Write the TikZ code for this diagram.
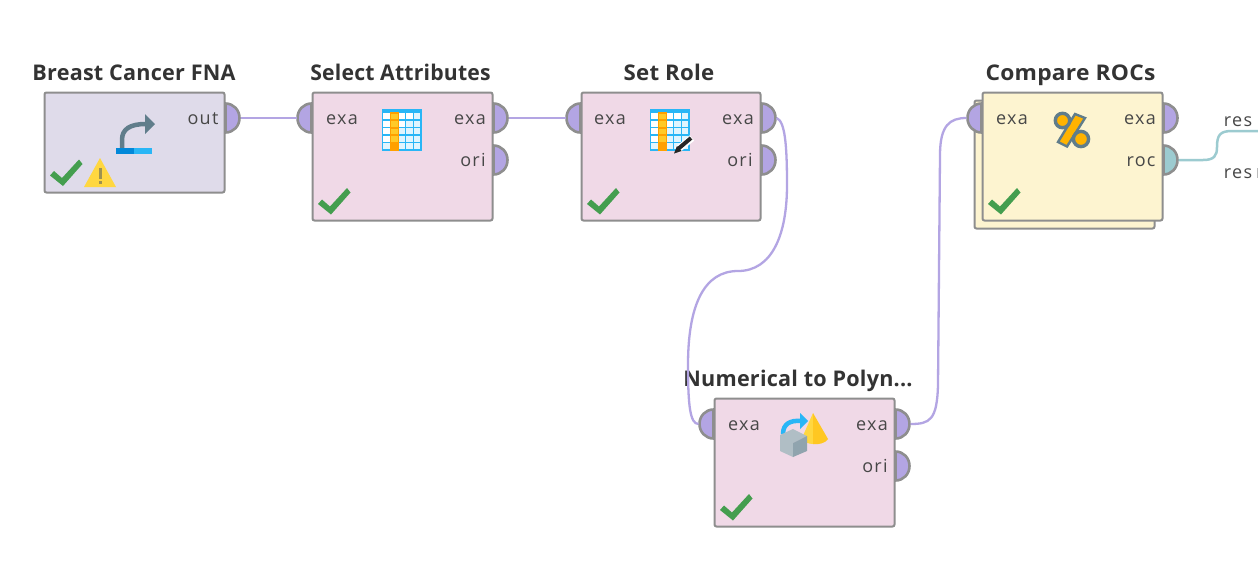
\documentclass[tikz,border=0pt]{standalone}
\usepackage{fontspec}
\setmainfont{Open Sans}
\newfontfamily\portfont[LetterSpace=7]{Open Sans}
\newfontfamily\titlefont[LetterSpace=1]{Open Sans}
\definecolor{boxedge}{HTML}{8E8E8E}
\definecolor{pinkfill}{HTML}{F0D9E7}
\definecolor{lilacfill}{HTML}{DFDBEA}
\definecolor{creamfill}{HTML}{FDF4D0}
\definecolor{purpleport}{HTML}{B3A5E3}
\definecolor{tealport}{HTML}{9CCBD0}
\definecolor{tickgreen}{HTML}{4CAF58}
\definecolor{skyblue}{HTML}{29B6F6}
\definecolor{deepblue}{HTML}{0288D9}
\definecolor{paleblue}{HTML}{E1F5FE}
\definecolor{orangecol}{HTML}{FFB300}
\definecolor{orangelow}{HTML}{FFA000}
\definecolor{orangehigh}{HTML}{FFCA28}
\definecolor{slategray}{HTML}{607D8B}
\definecolor{warnyellow}{HTML}{FFD740}
\definecolor{warnmark}{HTML}{9E9250}
\definecolor{cubelight}{HTML}{B0BEC5}
\definecolor{cubedark}{HTML}{90A4AE}
\tikzset{
  opbox/.style={draw=boxedge,line width=2pt,rounded corners=2pt,minimum width=180pt,minimum height=128pt,inner sep=0pt,anchor=north west},
  optitle/.style={font=\titlefont\fontsize{21.6}{26}\selectfont\bfseries,text=black!80,inner sep=0pt,anchor=base},
  portlabel/.style={font=\portfont\fontsize{18}{22}\selectfont,text=black!72,inner sep=0pt,anchor=base},
  wire/.style={line width=2.3pt,draw=purpleport},
  tealwire/.style={line width=2.5pt,draw=tealport},
  pics/portright/.style={code={
    \draw[draw=boxedge,line width=2.6pt,fill=#1] (0,-14.5) .. controls (8,-14.5) and (14,-8) .. (14,0) .. controls (14,8) and (8,14.5) .. (0,14.5) -- cycle;
    \coordinate (-tip) at (15,0);}},
  pics/portleft/.style={code={
    \draw[draw=boxedge,line width=2.6pt,fill=#1] (0,-14.5) .. controls (-8,-14.5) and (-14,-8) .. (-14,0) .. controls (-14,8) and (-8,14.5) .. (0,14.5) -- cycle;
    \coordinate (-tip) at (-15,0);}},
  pics/tick/.style={code={
    \fill[tickgreen!90!black] (0,-1) -- (4,-5.5) -- (12,1.5) -- (29,-17) -- (32.5,-12.5) -- (13,9.5) -- cycle;}},
  pics/gridicon/.style={code={
    \fill[skyblue] (0,0) rectangle (40,42);
    \foreach \c in {0,...,4}{\foreach \r in {0,...,4}{
      \pgfmathsetmacro\xa{1.3+7.7*\c}\pgfmathsetmacro\ya{4+7.6*\r}
      \pgfmathtruncatemacro\cr{\c+\r}
      \ifnum\cr<4 \def\cellc{white}\else\def\cellc{paleblue}\fi
      \fill[\cellc] (\xa,\ya) rectangle ++(6.2,6);}}
    \fill[orangelow] (8,3) rectangle (17,42);
    \foreach \r in {0,...,3}{\fill[orangehigh] (9,{4.5+7.6*\r}) rectangle (16,{10+7.6*\r});}}}
}
\begin{document}
\begin{tikzpicture}[x=1pt,y=-1pt]
\useasboundingbox (0,0) rectangle (1258,568);
\fill[white] (0,0) rectangle (1258,568);

% back sheet of Compare ROCs
\node[opbox,fill=creamfill] (cmpback) at (973.5,99.5) {};

% boxes
\node[opbox,fill=lilacfill,minimum height=100pt] (src) at (43.5,91.5) {};
\node[opbox,fill=pinkfill] (sel) at (311.5,91.5) {};
\node[opbox,fill=pinkfill,minimum width=179pt] (role) at (580.5,91.5) {};
\node[opbox,fill=creamfill] (cmp) at (981.5,91.5) {};
\node[opbox,fill=pinkfill] (num) at (713.5,397.5) {};

% titles
\node[optitle] (t1) at (134,80.5) {Breast Cancer FNA};
\node[optitle,xscale=.98] (t2) at (400.5,80.5) {Select Attributes};
\node[optitle,xscale=1.03] (t3) at (669,80.5) {Set Role};
\node[optitle,xscale=1.055] (t4) at (1070.5,80.5) {Compare ROCs};
\node[optitle] (t5) at (798,386.5) {Numerical to Polyn...};

% ports
\pic (srcOut) at (src.north east |- 0,118) {portright=purpleport};
\pic (selIn) at (sel.north west |- 0,118) {portleft=purpleport};
\pic (selOut) at (sel.north east |- 0,118) {portright=purpleport};
\pic (selOri) at (sel.north east |- 0,160) {portright=purpleport};
\pic (roleIn) at (role.north west |- 0,118) {portleft=purpleport};
\pic (roleOut) at (role.north east |- 0,118) {portright=purpleport};
\pic (roleOri) at (role.north east |- 0,160) {portright=purpleport};
\pic (cmpIn) at (cmp.north west |- 0,118) {portleft=purpleport};
\pic (cmpOut) at (cmp.north east |- 0,118) {portright=purpleport};
\pic (cmpRoc) at (cmp.north east |- 0,160) {portright=tealport};
\pic (numIn) at (num.north west |- 0,424) {portleft=purpleport};
\pic (numOut) at (num.north east |- 0,424) {portright=purpleport};
\pic (numOri) at (num.north east |- 0,466) {portright=purpleport};

% connectors
\draw[wire] (srcOut-tip) -- (selIn-tip);
\draw[wire] (selOut-tip) -- (roleIn-tip);
\draw[wire] (roleOut-tip) .. controls (785,121) and (787,145) .. (787,185) .. controls (787,235) and (772,271) .. (738,271) .. controls (704,271) and (688,305) .. (688,365) .. controls (688,405) and (690,424) .. (numIn-tip);
\draw[wire] (numOut-tip) .. controls (930,424) and (937,420) .. (938,385) -- (940,155) .. controls (940,125) and (950,118) .. (cmpIn-tip);
\coordinate (resIn) at (1258,131);
\draw[tealwire] (cmpRoc-tip) -- (1203,160) .. controls (1214,160) and (1217,156) .. (1217,147) .. controls (1217,135) and (1220,131) .. (1232,131) -- (resIn);
\draw[boxedge!60,line width=.7pt] (1257.7,168) -- (1257.7,178);

% port labels
\node[portlabel] (l1) at (203,124) {out};
\node[portlabel] (l2) at (342,124) {exa};
\node[portlabel] (l3) at (470,124) {exa};
\node[portlabel] (l4) at (473,166) {ori};
\node[portlabel] (l5) at (610,124) {exa};
\node[portlabel] (l6) at (738,124) {exa};
\node[portlabel] (l7) at (740,166) {ori};
\node[portlabel] (l8) at (1012,124) {exa};
\node[portlabel] (l9) at (1140,124) {exa};
\node[portlabel] (l10) at (1141,166) {roc};
\node[portlabel] (l11) at (744,430) {exa};
\node[portlabel] (l12) at (872,430) {exa};
\node[portlabel] (l13) at (875,472) {ori};
\node[portlabel] (l14) at (1238,126) {res};
\node[portlabel] (l15) at (1238,178) {res};

% ticks
\pic at (50,176.5) {tick};
\pic at (318,205) {tick};
\pic at (587,205) {tick};
\pic at (988,205) {tick};
\pic at (720,511) {tick};

% warning
\fill[warnyellow] (100,158) -- (116,187) -- (84,187) -- cycle;
\fill[warnmark] (98.5,168) rectangle (101.5,179);
\fill[warnmark] (98.5,181) rectangle (101.5,184);

% retrieve icon
\draw[slategray,line width=4.5pt] (122,148) -- (122,140) .. controls (122,129) and (130,124) .. (146,124);
\fill[slategray] (145,114) -- (155,124) -- (145,134) -- cycle;
\fill[deepblue] (116,148) rectangle (134,154);
\fill[skyblue] (134,148) rectangle (152,154);

% table icons
\pic at (382,109) {gridicon};
\pic at (650,109) {gridicon};
\draw[white,line width=7pt] (677,150) -- (692,138);
\draw[black!85,line width=4pt] (678,149) -- (691,138);
\fill[black!85] (674,153.5) -- (677,146) -- (681.5,151) -- cycle;

% percent icon
\draw[slategray,line width=2.4pt,fill=orangecol] (1075,114) -- (1085,118) -- (1067,146.5) -- (1058,142) -- cycle;
\draw[slategray,line width=3.4pt,fill=orangecol] (1062.5,120.5) circle[radius=7.2];
\draw[slategray,line width=3.4pt,fill=orangecol] (1081,139) circle[radius=7.6];

% numerical to polynominal icon
\fill[warnyellow] (813,413) -- (813,444) .. controls (808,444) and (804,442) .. (802,438) -- cycle;
\fill[orangehigh!85!orangecol] (813,413) -- (828,439) .. controls (826,443) and (818,445) .. (813,444) -- cycle;
\draw[skyblue,line width=4.5pt] (783,434) .. controls (783,424) and (790,420) .. (801,421);
\fill[skyblue] (800,413) -- (808,421) -- (800,429) -- cycle;
\fill[cubelight] (793,429) -- (807,436) -- (793,443) -- (793,457) -- (780,451) -- (780,435) -- cycle;
\fill[cubedark] (807,436) -- (793,443) -- (793,457) -- (807,451) -- cycle;
\end{tikzpicture}
\end{document}
